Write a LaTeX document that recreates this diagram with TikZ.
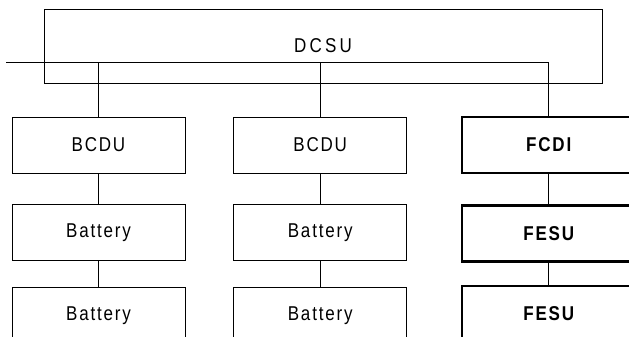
\documentclass[tikz,border=0pt]{standalone}
\usepackage{fontspec}
\setmainfont{Liberation Sans}
\newfontfamily\boxfont[FakeStretch=0.85, LetterSpace=9]{Liberation Sans}
\newfontfamily\widefont[FakeStretch=0.85, LetterSpace=16]{Liberation Sans}
\usetikzlibrary{positioning}

\begin{document}
\begin{tikzpicture}[
  x=1pt, y=1pt,
  box/.style={draw, line width=0.7pt, minimum width=173pt, minimum height=56pt, inner sep=0pt, font=\boxfont\fontsize{20}{24}\selectfont},
  fcbox/.style={box, line width=2.4pt, font=\boxfont\bfseries\fontsize{20}{24}\selectfont},
  dcsubox/.style={box, minimum width=558pt, minimum height=74pt, font=\widefont\fontsize{20}{24}\selectfont},
  wire/.style={line width=0.7pt}
]
\useasboundingbox (0,0) rectangle (629,-337);
\clip (0,0) rectangle (629,-337);

% Control unit
\node[dcsubox] (dcsu) at (323,-46) {DCSU};
\coordinate (busL) at (6,-62);

% Battery strings
\node[box] (bcduA) at (98.5,-145) {BCDU};
\node[box, below=31pt of bcduA] (batA1) {Battery};
\node[box, below=26pt of batA1] (batA2) {Battery};

\node[box, right=48pt of bcduA] (bcduB) {BCDU};
\node[box, below=31pt of bcduB] (batB1) {Battery};
\node[box, below=26pt of batB1] (batB2) {Battery};

% Flywheel string
\node[fcbox, right=54pt of bcduB] (fcdi) {FCDI};
\node[fcbox, below=30pt of fcdi] (fesuA) {FESU};
\node[fcbox, below=22pt of fesuA] (fesuB) {FESU};

% Wiring
\draw[wire] (busL) -| (fcdi.north);
\draw[wire] (bcduA.north) -- (bcduA.north |- busL);
\draw[wire] (bcduB.north) -- (bcduB.north |- busL);
\draw[wire] (bcduA) -- (batA1);
\draw[wire] (batA1) -- (batA2);
\draw[wire] (bcduB) -- (batB1);
\draw[wire] (batB1) -- (batB2);
\draw[wire] (fcdi) -- (fesuA);
\draw[wire] (fesuA) -- (fesuB);

\end{tikzpicture}
\end{document}
